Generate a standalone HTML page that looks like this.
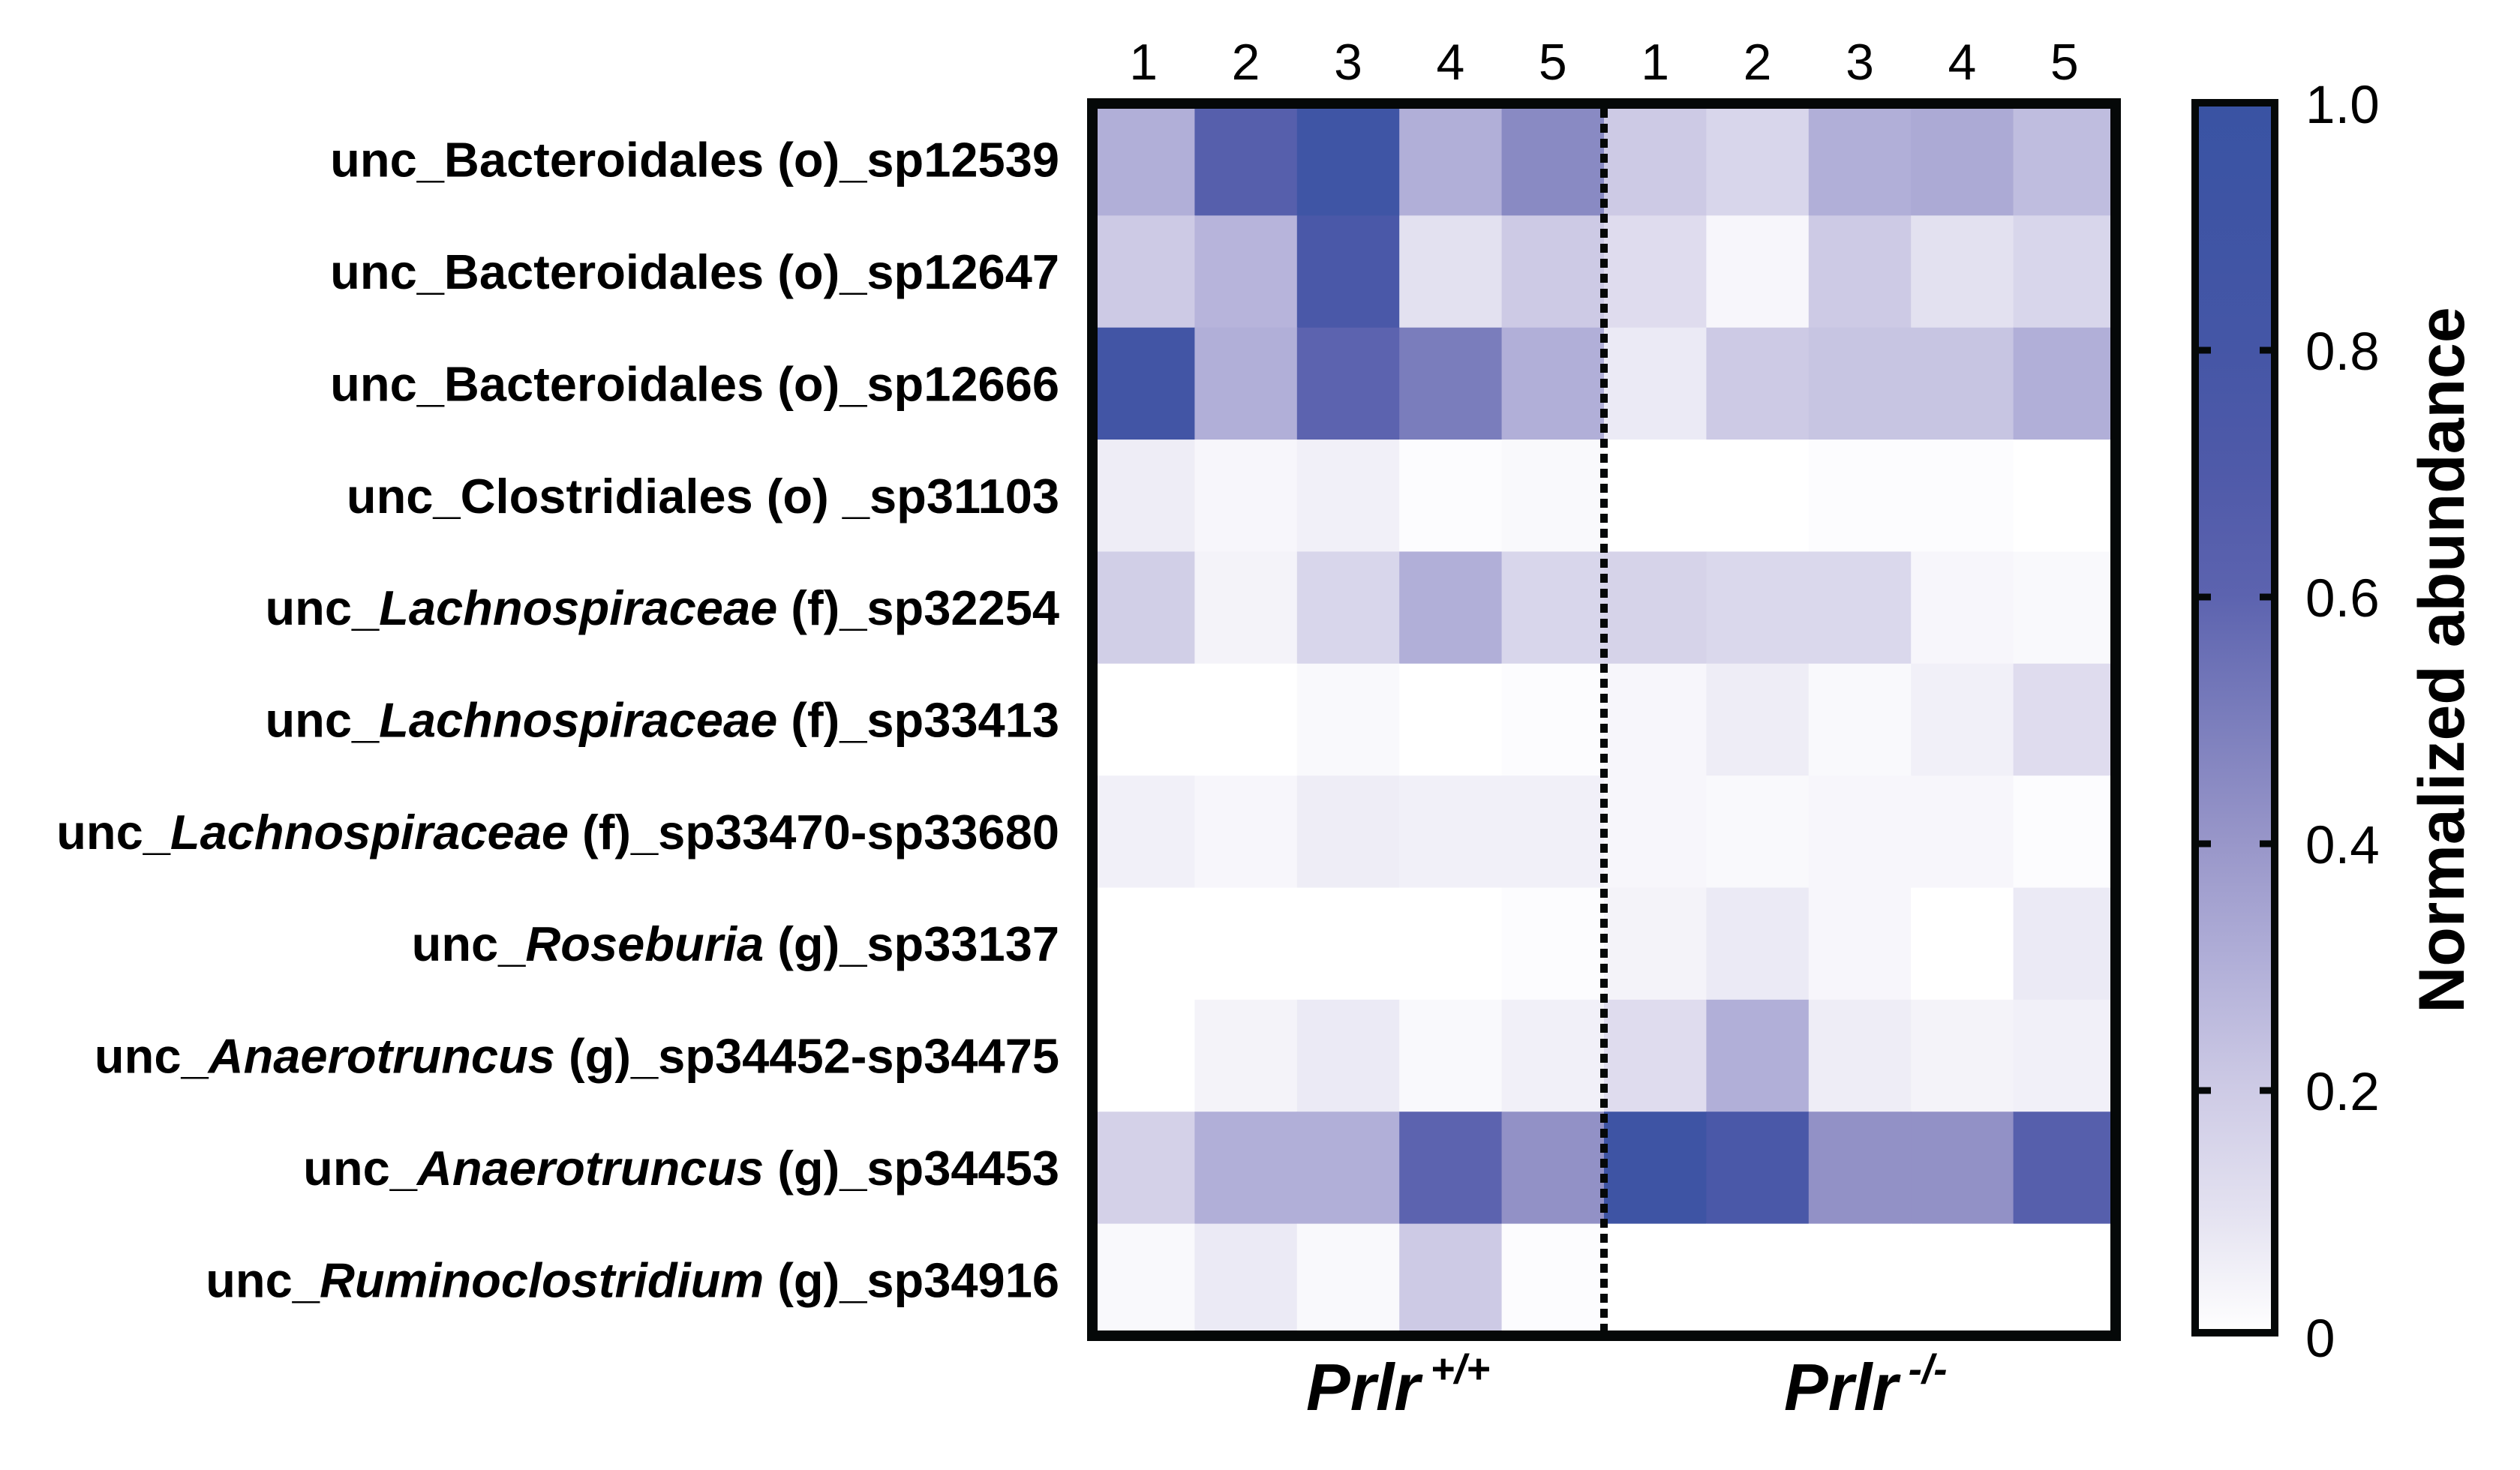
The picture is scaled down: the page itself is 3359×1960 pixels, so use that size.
<!DOCTYPE html>
<html><head><meta charset="utf-8"><style>
html,body{margin:0;padding:0;background:#fff;}
svg{display:block;font-family:"Liberation Sans",Arial,sans-serif;}
</style></head><body>
<svg id="chart" width="3359" height="1960" viewBox="0 0 3359 1960" xmlns="http://www.w3.org/2000/svg">
<defs>
<linearGradient id="cbgrad" x1="0" y1="1" x2="0" y2="0">
<stop offset="0" stop-color="#ffffff"/>
<stop offset="0.1" stop-color="#e3e1f0"/>
<stop offset="0.2" stop-color="#cdcae5"/>
<stop offset="0.3" stop-color="#b1afd8"/>
<stop offset="0.4" stop-color="#9896c9"/>
<stop offset="0.5" stop-color="#7a7dbc"/>
<stop offset="0.6" stop-color="#5c63af"/>
<stop offset="0.7" stop-color="#4f5aa9"/>
<stop offset="0.8" stop-color="#4556a6"/>
<stop offset="1" stop-color="#3953a3"/>
</linearGradient>
</defs>
<g id="cells"></g>
<g id="rowlabels"></g>
<g id="collabels"></g>
<rect x="1456" y="138" width="1364" height="1643" fill="none" stroke="#050808" stroke-width="14"/>
<line x1="2138" y1="145" x2="2138" y2="1774" stroke="#050808" stroke-width="10" stroke-dasharray="12,8"/>
<text x="1741" y="1880" font-size="88" font-weight="bold" font-style="italic">Prlr<tspan font-size="55" dy="-36" dx="14">+/+</tspan></text>
<text x="2378" y="1880" font-size="88" font-weight="bold" font-style="italic">Prlr<tspan font-size="55" dy="-36" dx="14">-/-</tspan></text>
<rect x="2926" y="137" width="106" height="1640" fill="url(#cbgrad)" stroke="#050808" stroke-width="10"/>
<g id="cbticks"></g>
<text transform="translate(3284,880) rotate(-90)" text-anchor="middle" font-size="86" font-weight="bold">Normalized abundance</text>
</svg>
<script>
const rowNames = [
 [["unc_Bacteroidales (o)_sp12539",0]],
 [["unc_Bacteroidales (o)_sp12647",0]],
 [["unc_Bacteroidales (o)_sp12666",0]],
 [["unc_Clostridiales (o) _sp31103",0]],
 [["unc_",0],["Lachnospiraceae",1],[" (f)_sp32254",0]],
 [["unc_",0],["Lachnospiraceae",1],[" (f)_sp33413",0]],
 [["unc_",0],["Lachnospiraceae",1],[" (f)_sp33470-sp33680",0]],
 [["unc_",0],["Roseburia",1],[" (g)_sp33137",0]],
 [["unc_",0],["Anaerotruncus",1],[" (g)_sp34452-sp34475",0]],
 [["unc_",0],["Anaerotruncus",1],[" (g)_sp34453",0]],
 [["unc_",0],["Ruminoclostridium",1],[" (g)_sp34916",0]]
];
const colLabels = ["1","2","3","4","5","1","2","3","4","5"];
const row1 = [0.30,0.65,0.90,0.30,0.45,0.20,0.15,0.30,0.32,0.25];
const row2 = [0.20,0.28,0.75,0.10,0.20,0.12,0.03,0.20,0.10,0.15];
const row3 = [0.85,0.30,0.60,0.50,0.30,0.07,0.20,0.22,0.22,0.30];
const row4 = [0.06,0.03,0.05,0.01,0.02,0.00,0.00,0.01,0.01,0.00];
const row5 = [0.18,0.04,0.15,0.30,0.15,0.16,0.14,0.14,0.03,0.02];
const row6 = [0.00,0.00,0.02,0.00,0.01,0.03,0.06,0.02,0.05,0.12];
const row7 = [0.05,0.03,0.06,0.05,0.05,0.03,0.02,0.03,0.03,0.01];
const row8 = [0.00,0.00,0.00,0.00,0.01,0.04,0.07,0.03,0.00,0.07];
const row9 = [0.00,0.04,0.07,0.02,0.05,0.12,0.30,0.06,0.04,0.05];
const row10 = [0.17,0.30,0.30,0.60,0.42,0.92,0.75,0.42,0.42,0.65];
const row11 = [0.02,0.07,0.02,0.20,0.01,0.00,0.00,0.00,0.00,0.00];
const values = [row1,row2,row3,row4,row5,row6,row7,row8,row9,row10,row11];
const tickValues = [0,0.2,0.4,0.6,0.8,1.0];
const tickLabels = ["0","0.2","0.4","0.6","0.8","1.0"];

const NS="http://www.w3.org/2000/svg";
const X0=1456, Y0=138, CW=136.4, RH=149.36;
const xPos = i => X0 + i*CW;
const yPos = j => Y0 + j*RH;
const cbY = v => 1783 - v*(1783-138);
const stops=[[0,[255,255,255]],[0.1,[227,225,240]],[0.2,[205,202,229]],[0.3,[177,175,216]],[0.4,[152,150,201]],[0.5,[122,125,188]],[0.6,[92,99,175]],[0.7,[79,90,169]],[0.8,[69,86,166]],[1,[57,83,163]]];
function color(v){
  v=Math.max(0,Math.min(1,v));
  for(let k=1;k<stops.length;k++){
    if(v<=stops[k][0]){
      const a=stops[k-1],b=stops[k],t=(v-a[0])/(b[0]-a[0]);
      const c=a[1].map((x,i)=>Math.round(x+(b[1][i]-x)*t));
      return `rgb(${c[0]},${c[1]},${c[2]})`;
    }
  }
  return "rgb(57,83,163)";
}
const cells=document.getElementById('cells');
values.forEach((row,j)=>row.forEach((v,i)=>{
  const r=document.createElementNS(NS,'rect');
  
  
  r.setAttribute('x',xPos(i)); r.setAttribute('y',yPos(j));
  r.setAttribute('width',CW+0.6); r.setAttribute('height',RH+0.6);
  r.setAttribute('fill',color(v));
  cells.appendChild(r);
}));
const rl=document.getElementById('rowlabels');
rowNames.forEach((parts,j)=>{
  const t=document.createElementNS(NS,'text');
  
  
  t.setAttribute('x',1412); t.setAttribute('y',yPos(j)+RH/2+23);
  t.setAttribute('text-anchor','end'); t.setAttribute('font-size','65'); t.setAttribute('font-weight','bold');
  parts.forEach(p=>{const s=document.createElementNS(NS,'tspan'); s.textContent=p[0]; if(p[1]) s.setAttribute('font-style','italic'); t.appendChild(s);});
  rl.appendChild(t);
});
const cl=document.getElementById('collabels');
colLabels.forEach((lab,i)=>{
  const t=document.createElementNS(NS,'text');
  
  
  t.setAttribute('x',xPos(i)+CW/2); t.setAttribute('y',106);
  t.setAttribute('text-anchor','middle'); t.setAttribute('font-size','68');
  t.textContent=lab; cl.appendChild(t);
});
const cb=document.getElementById('cbticks');
tickValues.forEach((v,k)=>{
  const y=cbY(v);
  if(v>0 && v<1){
    [[2931,2947],[3012,3028]].forEach(([a,b])=>{
      const l=document.createElementNS(NS,'line');
      
      
      l.setAttribute('x1',a); l.setAttribute('x2',b); l.setAttribute('y1',y); l.setAttribute('y2',y);
      l.setAttribute('stroke','#050808'); l.setAttribute('stroke-width','9');
      cb.appendChild(l);
    });
  }
  const t=document.createElementNS(NS,'text');
  
  
  t.setAttribute('x',3073); t.setAttribute('y',y+26);
  t.setAttribute('font-size','71');
  t.textContent=tickLabels[k]; cb.appendChild(t);
});
</script>
</body></html>
